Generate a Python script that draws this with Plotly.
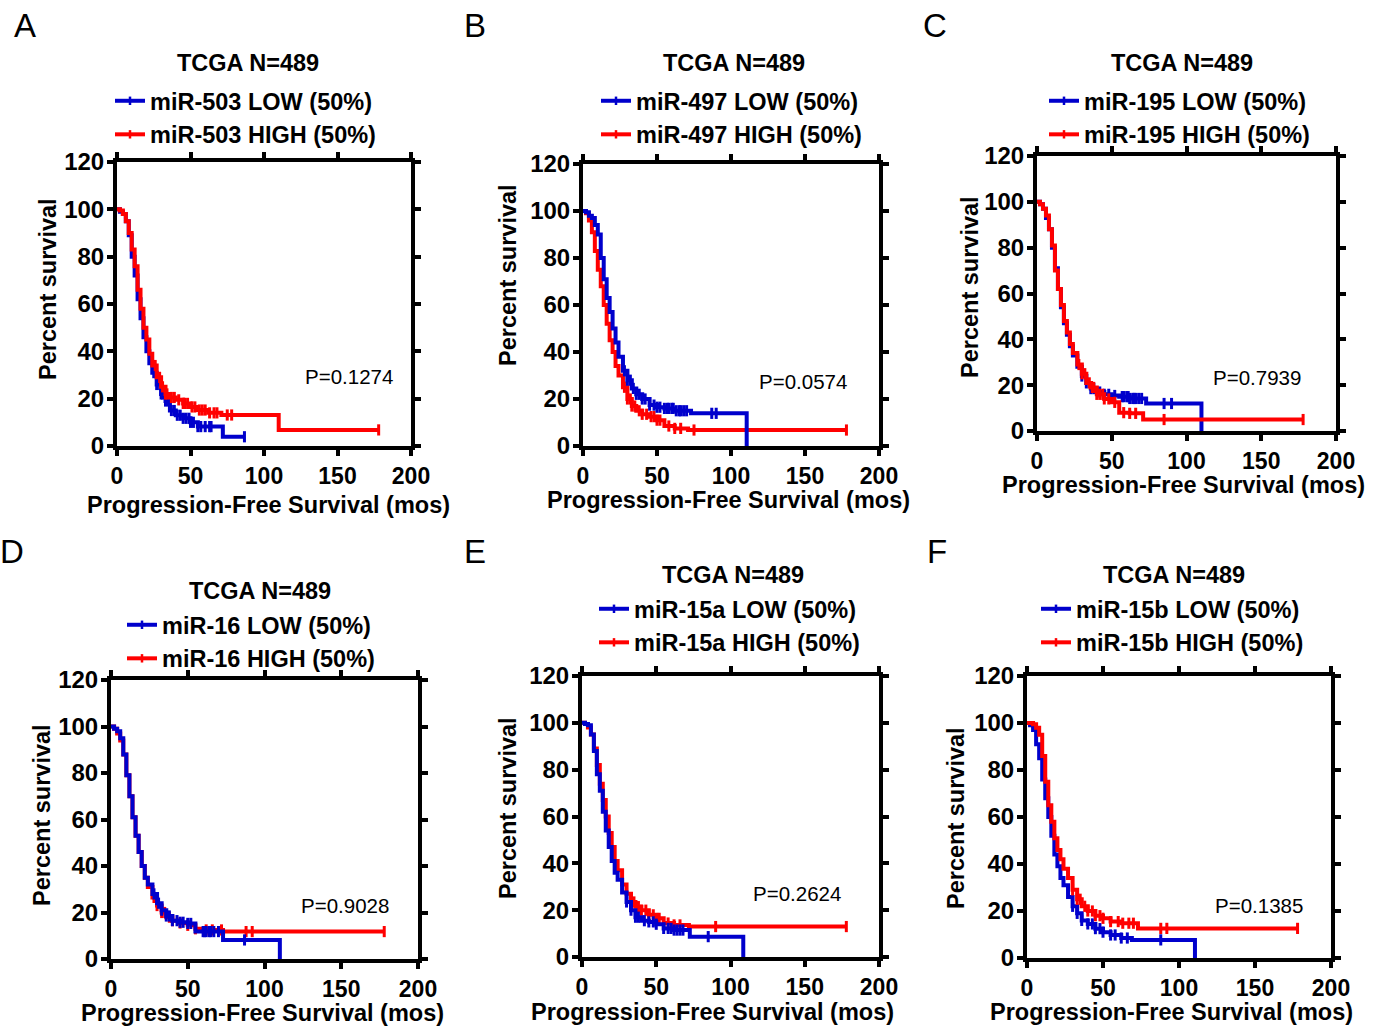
import plotly.graph_objects as go

W, H = 1382, 1028
FONT = "Arial, 'Liberation Sans', sans-serif"
BLUE = "#0000cc"
RED = "#ff0000"

# ---------------- data ----------------
PANELS = ["A", "B", "C", "D", "E", "F"]
GENES = ["miR-503", "miR-497", "miR-195", "miR-16", "miR-15a", "miR-15b"]
P_VALUES = ["P=0.1274", "P=0.0574", "P=0.7939", "P=0.9028", "P=0.2624", "P=0.1385"]
COHORT = "TCGA N=489"
X_TICKS = [0, 50, 100, 150, 200]
Y_TICKS = [0, 20, 40, 60, 80, 100, 120]

T_GRID = [0, 2, 4, 6, 8, 10, 12, 14, 16, 18, 20, 22, 24, 27, 30, 33, 36, 40, 45, 50, 55, 62]

A_LOW_T = T_GRID + [72, 86.7]
A_LOW_S = [100, 99, 98, 95, 89, 80, 72, 62, 54, 46, 40, 35, 31, 26, 22, 19, 15, 13, 11.7, 10, 8.2, 8.2, 3.9, 3.9]
A_LOW_C = [25, 27, 29, 30, 31, 33, 35, 37, 39, 41, 43, 45, 47, 49, 50, 52, 55, 57, 60, 63, 64, 86.7]
A_HIGH_T = T_GRID + [71, 110, 178]
A_HIGH_S = [100, 99.5, 98, 95, 90, 83, 76, 66, 58, 50, 45, 39, 34, 29, 25, 22, 20.5, 19.5, 18, 16.5, 15.2, 14, 13.1, 6.8, 6.8]
A_HIGH_C = [26, 29, 31, 33, 34, 37, 39, 42, 45, 46, 48, 51, 53, 56, 58, 60, 63, 66, 68, 75, 78, 178]

B_LOW_T = T_GRID + [73, 110.6]
B_LOW_S = [100, 99.5, 98, 97, 94, 90, 80, 71, 63, 57, 50, 44, 38, 32, 28, 24.5, 22, 20, 17.4, 16.5, 16, 15, 13.9, 0]
B_LOW_C = [28, 30, 32, 34, 36, 38, 40, 42, 45, 48, 50, 52, 55, 57, 58, 60, 61, 63, 65, 66, 68, 70, 87, 90]
B_HIGH_T = T_GRID + [71, 178]
B_HIGH_S = [100, 99, 96, 91, 83, 75, 68, 60, 52, 45, 40, 34, 30, 25, 20, 17, 15, 13.5, 12.5, 11, 8.5, 7.5, 6.8, 6.8]
B_HIGH_C = [28, 30, 32, 33, 35, 38, 40, 43, 46, 48, 50, 52, 58, 62, 66, 75, 178]

C_LOW_T = T_GRID + [73, 110]
C_LOW_S = [100, 99, 97, 93, 88, 80, 71, 62, 54, 47, 42, 37, 33, 28, 24, 21, 18.5, 17, 16, 15.5, 15, 14.2, 12, 0]
C_LOW_C = [30, 33, 36, 38, 42, 45, 48, 52, 57, 58, 60, 61, 62, 64, 65, 66, 68, 70, 85, 90]
C_HIGH_T = T_GRID + [71, 178]
C_HIGH_S = [100, 99, 97, 94, 88, 81, 70, 62, 55, 48, 43, 38, 34, 29, 25, 21, 19, 16, 14, 12.5, 8, 7.7, 5, 5]
C_HIGH_C = [28, 30, 32, 35, 37, 38, 40, 42, 44, 45, 48, 52, 58, 62, 66, 85, 178]

D_LOW_T = T_GRID + [73, 110]
D_LOW_S = [100, 99, 98, 95, 88, 79, 70, 61, 53, 46, 40, 35, 32, 28, 24, 21, 18.5, 16.5, 15.8, 15.3, 11.8, 11.8, 8.2, 0]
D_LOW_C = [28, 31, 33, 36, 38, 40, 43, 45, 47, 50, 52, 60, 61, 62, 64, 65, 67, 70, 87]
D_HIGH_T = T_GRID + [73, 178]
D_HIGH_S = [100, 99, 97, 94, 88, 79, 70, 61, 53, 46, 40, 35, 31, 26.5, 23, 20, 18, 16.5, 15.5, 14.5, 13, 12.5, 11.8, 11.8]
D_HIGH_C = [28, 30, 33, 35, 38, 40, 45, 50, 55, 62, 66, 72, 88, 92, 178]

E_LOW_T = T_GRID + [72.6, 108.6]
E_LOW_S = [100, 99.5, 99, 95, 88, 78, 71, 62, 54, 47, 41, 36, 33, 27.5, 23.5, 20, 17, 15.5, 15, 14, 12.2, 11.5, 8.7, 0]
E_LOW_C = [30, 33, 36, 38, 42, 45, 48, 50, 55, 58, 60, 62, 64, 66, 68, 85]
E_HIGH_T = T_GRID + [72, 178]
E_HIGH_S = [100, 99.5, 98, 95, 89, 82, 74, 67, 60, 53, 47, 41, 37, 31, 27, 23.5, 21.5, 20, 18, 16.5, 14.5, 13.7, 13, 13]
E_HIGH_C = [30, 33, 35, 38, 40, 43, 45, 48, 52, 58, 62, 66, 90, 178]

F_LOW_T = T_GRID + [69, 110.5]
F_LOW_S = [100, 99, 97, 91, 85, 76, 68, 60, 52, 44, 39, 34, 31, 26, 22, 19, 16, 14.5, 12.5, 11, 9.8, 8.5, 7.7, 0]
F_LOW_C = [30, 33, 36, 40, 43, 45, 48, 50, 55, 58, 62, 66, 88]
F_HIGH_T = T_GRID + [73, 178]
F_HIGH_S = [100, 100, 99.5, 98, 95, 86, 75, 65, 58, 51, 46, 42, 38, 34, 29, 25, 22, 20, 18, 16.9, 15.5, 14.8, 12.6, 12.6]
F_HIGH_C = [30, 33, 35, 38, 40, 43, 45, 48, 50, 55, 60, 63, 67, 70, 88, 92, 178]

CURVES = {
    "A": (A_LOW_T, A_LOW_S, A_LOW_C, A_HIGH_T, A_HIGH_S, A_HIGH_C),
    "B": (B_LOW_T, B_LOW_S, B_LOW_C, B_HIGH_T, B_HIGH_S, B_HIGH_C),
    "C": (C_LOW_T, C_LOW_S, C_LOW_C, C_HIGH_T, C_HIGH_S, C_HIGH_C),
    "D": (D_LOW_T, D_LOW_S, D_LOW_C, D_HIGH_T, D_HIGH_S, D_HIGH_C),
    "E": (E_LOW_T, E_LOW_S, E_LOW_C, E_HIGH_T, E_HIGH_S, E_HIGH_C),
    "F": (F_LOW_T, F_LOW_S, F_LOW_C, F_HIGH_T, F_HIGH_S, F_HIGH_C),
}

# ---------------- layout geometry (pixels) ----------------
# plot box: x at 0, x at 200, y at 0 (bottom), y at 120 (top)
BOX = {
    "A": (117, 411, 446, 162),
    "B": (583, 879, 446, 164),
    "C": (1037, 1336, 431, 156),
    "D": (111, 418, 959, 680),
    "E": (582, 879, 957, 676),
    "F": (1027, 1331, 958, 676),
}
LETTER_POS = {"A": (25, 25), "B": (475, 25), "C": (935, 25), "D": (12, 551), "E": (475, 551), "F": (937, 551)}
TITLE_POS = {"A": (248, 63), "B": (734, 63), "C": (1182, 63), "D": (260, 591), "E": (733, 575), "F": (1174, 575)}
LEGEND_TEXT_POS = {"A": (152, 101), "B": (638, 101), "C": (1086, 101), "D": (164, 625), "E": (636, 609), "F": (1078, 609)}
P_POS = {"A": (349, 376), "B": (803, 381), "C": (1257, 377), "D": (345, 905), "E": (797, 893), "F": (1259, 905)}
XT_POS = {"A": (268, 505), "B": (729, 500), "C": (1183, 485), "D": (262, 1013), "E": (712, 1012), "F": (1171, 1012)}
YT_POS = {"A": (48, 289), "B": (508, 275), "C": (970, 287), "D": (42, 815), "E": (508, 808), "F": (956, 818)}
LOW_ON_TOP = {"A": False, "B": True, "C": False, "D": True, "E": True, "F": False}


def step_value(ts, ss, t):
    v = ss[0]
    for ti, si in zip(ts, ss):
        if ti <= t:
            v = si
    return v


fig = go.Figure()
annotations = []
layout_axes = {}

for i, p in enumerate(PANELS):
    n = "" if i == 0 else str(i + 1)
    xref, yref = "x" + n, "y" + n
    leg = "legend" + n
    lt, ls, lc, ht, hs, hc = CURVES[p]
    gene = GENES[i]

    def add_curve(ts, ss, cens, color):
        fig.add_trace(go.Scatter(x=ts, y=ss, mode="lines", line=dict(color=color, width=4, shape="hv"),
                                 xaxis=xref, yaxis=yref, showlegend=False, hoverinfo="skip"))
        fig.add_trace(go.Scatter(x=cens, y=[step_value(ts, ss, c) for c in cens], mode="markers",
                                 marker=dict(symbol="line-ns", size=8, line=dict(color=color, width=3)),
                                 xaxis=xref, yaxis=yref, showlegend=False, hoverinfo="skip"))

    if LOW_ON_TOP[p]:
        add_curve(ht, hs, hc, RED)
        add_curve(lt, ls, lc, BLUE)
    else:
        add_curve(lt, ls, lc, BLUE)
        add_curve(ht, hs, hc, RED)

    # legend entries
    for name, color in ((f"{gene} LOW (50%)", BLUE), (f"{gene} HIGH (50%)", RED)):
        fig.add_trace(go.Scatter(x=[None], y=[None], mode="lines+markers", name=name,
                                 line=dict(color=color, width=4),
                                 marker=dict(symbol="line-ns", size=6, color=color, line=dict(color=color, width=2.5)),
                                 xaxis=xref, yaxis=yref, legend=leg))

    x0, x1, yb, yt = BOX[p]
    axis_common = dict(showgrid=False, zeroline=False, showline=True, linecolor="black", linewidth=4,
                       ticks="outside", ticklen=6, tickwidth=4, tickcolor="black", mirror="ticks",
                       automargin=False, fixedrange=True)
    layout_axes["xaxis" + n] = dict(axis_common, domain=[x0 / W, x1 / W], range=[0, 200], tickvals=X_TICKS,
                                    anchor=yref,
                                    tickfont=dict(family=FONT, size=23, color="black", weight="bold"))
    layout_axes["yaxis" + n] = dict(axis_common, domain=[1 - yb / H, 1 - yt / H], range=[0, 120], tickvals=Y_TICKS,
                                    anchor=xref, ticklabelstandoff=-2,
                                    tickfont=dict(family=FONT, size=24, color="black", weight="bold"))

    lx, ly = LEGEND_TEXT_POS[p]
    layout_axes[leg] = dict(x=(lx - 42) / W, y=1 - (ly - 22) / H, xanchor="left", yanchor="top",
                            bgcolor="rgba(0,0,0,0)", borderwidth=0, itemwidth=30, tracegroupgap=0,
                            font=dict(family=FONT, size=23.5, color="black", weight="bold"))

    def ann(text, pos, size, bold=False, angle=0):
        annotations.append(dict(text=text, x=pos[0] / W, y=1 - pos[1] / H, xref="paper", yref="paper",
                                showarrow=False, xanchor="center", yanchor="middle", textangle=angle,
                                font=dict(family=FONT, size=size, color="black",
                                          weight="bold" if bold else "normal")))

    ann(p, LETTER_POS[p], 33)
    ann(COHORT, TITLE_POS[p], 23.5, bold=True)
    ann(P_VALUES[i], P_POS[p], 20.5)
    ann("Progression-Free Survival (mos)", XT_POS[p], 23.5, bold=True)
    ann("Percent survival", YT_POS[p], 23.5, bold=True, angle=-90)

fig.update_layout(width=W, height=H, margin=dict(l=0, r=0, t=0, b=0, autoexpand=False), paper_bgcolor="white",
                  plot_bgcolor="white", annotations=annotations, **layout_axes)

fig.write_html("out.html", config={"displayModeBar": False},
               post_script="document.body.style.margin='0';document.body.style.overflow='hidden';")
